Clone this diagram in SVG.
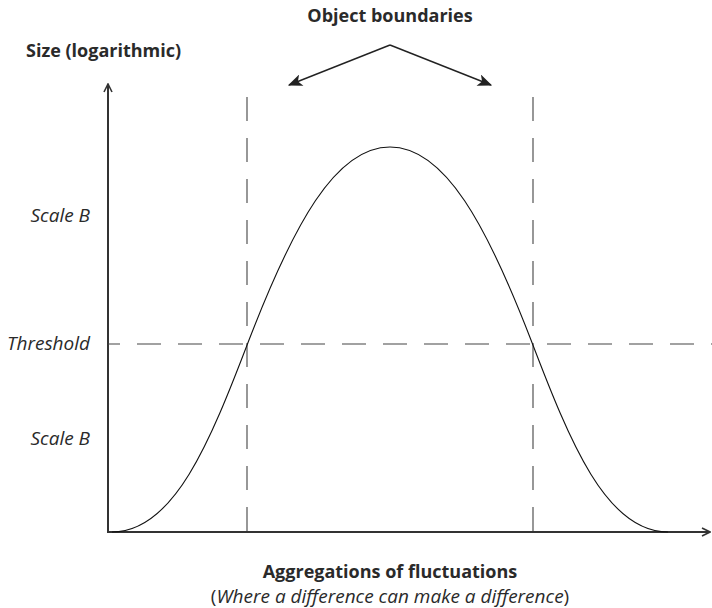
<svg xmlns="http://www.w3.org/2000/svg" width="712" height="608" viewBox="0 0 712 608">
<style>
.t{font-family:"Open Sans","Noto Sans","Liberation Sans",sans-serif;fill:#2a2a2a}
.b{font-weight:700;font-size:18px}
.i{font-style:italic;font-size:19px}
.p{font-size:19px}
.axis{stroke:#333;stroke-width:2;fill:none}
.dash{stroke:#444;stroke-width:1.1;fill:none;stroke-dasharray:24 17}
.curve{stroke:#111;stroke-width:1.1;fill:none}
.ptr{stroke:#222;stroke-width:1.4;fill:none}
</style>
<defs>
<marker id="open" viewBox="0 0 10 10" refX="9" refY="5" markerWidth="10" markerHeight="10" markerUnits="userSpaceOnUse" orient="auto">
<path d="M1,1 L9,5 L1,9" fill="none" stroke="#333" stroke-width="1.6"/>
</marker>
<marker id="solid" viewBox="0 0 12 10" refX="11" refY="5" markerWidth="15" markerHeight="12" markerUnits="userSpaceOnUse" orient="auto">
<path d="M0,0 L12,5 L0,10 L3,5 Z" fill="#222"/>
</marker>
</defs>
<g id="axes">
<line class="axis" x1="108" y1="533" x2="108" y2="84" marker-end="url(#open)"/>
<line class="axis" x1="107" y1="532" x2="710" y2="532" marker-end="url(#open)"/>
</g>
<g id="guides">
<line class="dash" x1="247" y1="97" x2="247" y2="532"/>
<line class="dash" x1="533" y1="97" x2="533" y2="532"/>
<line class="dash" x1="108" y1="344" x2="712" y2="344" style="stroke-dashoffset:12"/>
</g>
<g id="curve">
<path class="curve" d="M112,532 C174,532 210,442 249,340 C293,226 335,147 390,147 C445,147 487,226 531,340 C570,442 606,532 668,532"/>
</g>
<g id="connectors">
<line class="ptr" x1="390" y1="45" x2="289" y2="85" marker-end="url(#solid)"/>
<line class="ptr" x1="390" y1="45" x2="491" y2="85" marker-end="url(#solid)"/>
</g>
<g id="title"><text class="t b" x="390" y="22" text-anchor="middle">Object boundaries</text></g>
<g id="ylabel"><text class="t b" x="26" y="57">Size (logarithmic)</text></g>
<g id="scale-top"><text class="t i" x="90" y="222" text-anchor="end">Scale B</text></g>
<g id="threshold"><text class="t i" x="90" y="350" text-anchor="end">Threshold</text></g>
<g id="scale-bottom"><text class="t i" x="90" y="445" text-anchor="end">Scale B</text></g>
<g id="xlabel">
<text class="t b" x="390" y="578" text-anchor="middle">Aggregations of fluctuations</text>
<text class="t p" x="390" y="603" text-anchor="middle">(<tspan class="i">Where a difference can make a difference</tspan>)</text>
</g>
</svg>
